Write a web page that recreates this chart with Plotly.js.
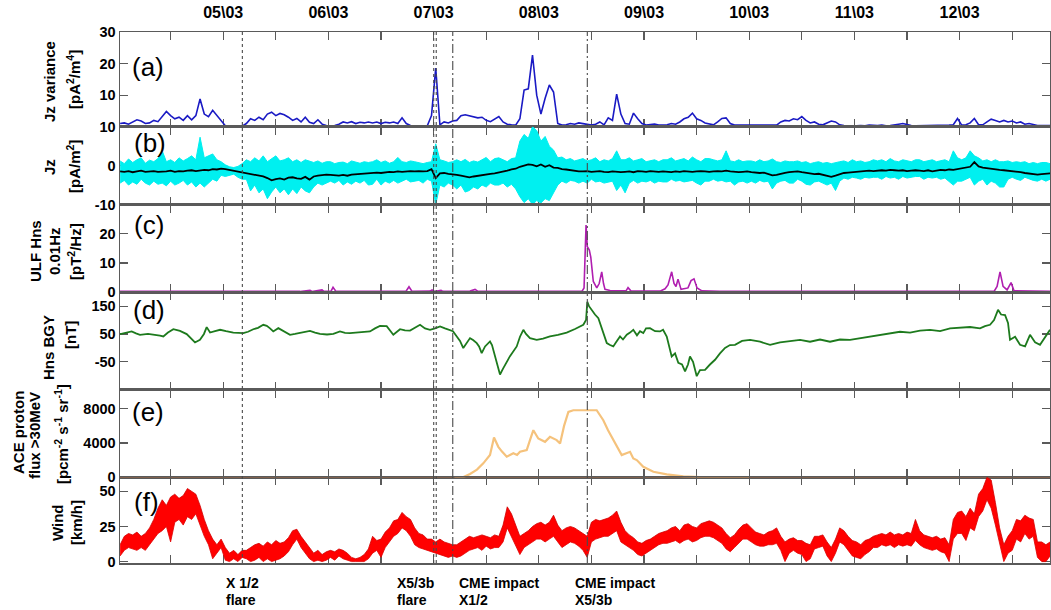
<!DOCTYPE html>
<html>
<head>
<meta charset="utf-8">
<script src="https://cdn.plot.ly/plotly-3.0.1.min.js"></script>
<style>html,body{margin:0;padding:0;background:#fff;}#chart{width:1051px;height:610px;}</style>
</head>
<body>
<div id="chart"></div>
<script>
// ---------------- DATA ----------------
// x axis: day of March 2012 (decimal)
const xRange = [4.019, 12.859];
const labelDays = [5,6,7,8,9,10,11,12];
const tickLabels = ['05\\03','06\\03','07\\03','08\\03','09\\03','10\\03','11\\03','12\\03'];

// regular sampling grid for the dense series
const gridStart = 4.02;
const gridStep = 0.04;

// (a) Jz variance [pA^2/m^4]
const jzVariance = [
 1.0,1.2,0.8,1.5,2.2,1.8,1.0,1.2,2.0,1.6,
 3.2,4.8,3.5,2.5,3.0,2.0,3.5,2.2,3.5,8.8,
 4.0,3.2,5.2,3.5,2.0,0.3,0.2,0.2,0.2,0.2,
 1.0,2.5,2.0,3.0,2.2,4.0,4.6,3.5,4.2,3.8,
 3.0,2.0,2.6,1.5,3.0,1.4,1.0,2.2,0.8,0.4,
 0.3,0.4,0.8,1.5,1.2,1.6,1.0,1.4,1.2,1.5,
 1.2,1.5,1.0,1.4,1.2,1.5,1.0,2.8,1.0,0.4,
 0.3,0.3,0.3,0.3,3.5,18.6,0.6,1.5,1.2,1.8,
 2.0,3.5,3.8,3.5,3.2,2.8,3.0,2.0,1.6,2.5,
 3.2,1.5,0.8,0.6,0.5,2.5,11.6,12.0,22.7,10.0,
 4.0,9.0,13.2,11.0,1.0,0.5,0.6,1.0,0.8,1.2,
 1.0,0.8,0.5,0.8,1.5,0.6,2.8,2.0,10.3,4.0,
 1.0,0.8,4.3,2.5,1.0,0.5,0.6,0.8,0.5,0.6,
 0.6,1.0,0.8,1.5,2.5,3.0,4.3,2.5,2.0,1.2,
 0.8,0.6,1.5,2.6,2.8,1.0,0.5,0.5,0.4,0.3,
 0.3,0.3,0.4,0.3,0.5,0.4,0.5,1.5,2.0,1.8,
 2.5,2.2,3.2,2.0,1.2,1.5,0.8,0.6,1.2,1.8,
 1.5,0.6,0.4,0.3,0.4,0.3,0.4,0.3,0.5,0.4,
 0.4,0.5,0.3,0.4,0.5,0.8,1.0,0.6,0.4,0.3,
 0.3,0.4,0.3,0.3,0.4,0.3,0.4,0.5,0.6,2.6,
 0.5,0.6,1.2,2.6,0.6,0.6,1.5,2.4,2.0,1.5,
 2.0,1.5,1.8,1.2,1.5,0.8,1.0,0.6,0.4,0.4,
 0.4,0.4
];

// (b) Jz raw [pA/m^2]: upper and lower envelope of the 1-s samples
const jzUpper = [
 1.2,0.5,1.7,0.8,1.5,2.0,0.6,1.4,1.0,1.8,
 3.8,1.0,1.5,0.8,2.0,1.2,1.8,2.5,1.5,7.3,
 2.0,2.5,3.0,1.5,1.0,0.2,-0.3,-0.5,-0.2,0.5,
 1.5,1.0,2.0,1.2,2.5,1.0,1.8,2.5,1.2,1.5,
 2.0,1.0,1.5,0.8,1.5,1.2,0.8,1.2,0.6,1.0,
 1.0,0.5,0.8,0.9,0.5,1.2,0.8,0.6,1.0,0.8,
 1.0,1.5,0.8,1.2,0.6,1.0,2.1,1.0,0.8,1.2,
 1.0,0.8,0.5,0.8,1.0,5.6,1.5,1.2,0.8,1.0,
 1.5,1.0,1.6,0.8,1.2,0.9,1.5,2.1,1.0,1.8,
 2.0,1.5,1.0,1.8,2.0,6.3,8.0,7.0,10.0,9.0,
 6.3,7.5,5.0,4.0,2.0,2.2,1.5,1.8,1.2,1.5,
 1.8,1.2,1.5,2.0,1.0,1.5,1.2,1.8,3.8,1.5,
 1.5,2.0,1.2,1.5,1.8,1.0,1.2,1.5,1.0,1.5,
 1.5,2.0,1.2,1.5,1.8,1.2,2.2,1.5,1.0,1.8,
 1.8,1.5,1.2,1.5,3.8,1.2,1.0,1.5,1.0,1.2,
 1.2,0.9,1.5,1.0,1.2,1.7,1.0,0.8,1.2,1.0,
 1.0,1.2,0.8,1.0,0.5,0.8,1.0,0.6,0.8,0.5,
 0.8,1.0,1.2,0.8,1.5,1.0,1.2,0.8,1.0,1.5,
 1.2,1.5,1.0,1.8,1.2,1.0,1.5,1.2,1.0,1.5,
 1.5,1.0,1.2,1.5,1.0,1.2,1.5,1.0,3.8,2.0,
 1.5,2.0,3.8,2.5,2.0,1.2,1.5,1.0,1.5,1.0,
 1.0,1.2,0.8,1.0,0.8,1.0,0.5,0.8,0.5,0.8,
 0.8,0.5
];
const jzLower = [
 -4.5,-3.8,-5.0,-4.2,-4.8,-3.5,-4.5,-5.0,-4.0,-4.8,
 -4.5,-5.2,-4.0,-5.0,-4.5,-3.8,-5.0,-4.2,-5.5,-4.5,
 -5.5,-4.5,-3.5,-4.0,-2.5,-2.8,-2.5,-2.2,-3.0,-3.5,
 -3.5,-6.5,-5.0,-7.0,-6.0,-8.5,-6.8,-5.5,-7.0,-6.0,
 -7.5,-6.0,-7.2,-5.5,-6.5,-7.0,-5.5,-4.5,-5.0,-4.5,
 -4.0,-4.5,-3.8,-5.0,-4.2,-4.8,-4.0,-4.5,-3.8,-5.0,
 -4.8,-3.5,-5.0,-4.0,-4.5,-3.8,-4.5,-4.0,-3.5,-4.2,
 -4.0,-3.8,-4.5,-3.5,-4.0,-10.0,-5.0,-5.5,-4.5,-5.0,
 -6.0,-5.0,-6.8,-6.4,-5.5,-6.0,-5.0,-5.5,-4.5,-5.0,
 -5.0,-4.5,-5.5,-4.8,-6.0,-8.0,-9.5,-8.5,-10.0,-9.0,
 -9.6,-8.5,-9.0,-7.0,-5.0,-4.0,-4.5,-3.8,-4.0,-4.5,
 -4.0,-4.5,-3.5,-4.2,-4.0,-4.5,-4.2,-4.0,-6.4,-5.0,
 -7.0,-4.5,-3.8,-4.5,-4.0,-4.2,-3.8,-4.5,-4.0,-4.2,
 -4.2,-3.5,-4.0,-3.8,-4.2,-4.0,-3.8,-4.5,-5.0,-4.0,
 -4.0,-3.5,-4.0,-3.8,-4.2,-4.0,-5.0,-4.2,-4.0,-4.5,
 -4.0,-4.5,-3.8,-4.2,-4.0,-6.0,-4.5,-4.0,-3.8,-4.5,
 -4.5,-3.5,-4.0,-4.8,-5.0,-4.2,-4.0,-4.5,-5.0,-4.5,
 -6.4,-4.0,-3.2,-3.5,-3.0,-3.2,-3.5,-3.0,-3.2,-3.0,
 -3.0,-3.5,-2.8,-3.2,-3.0,-3.5,-2.8,-3.2,-3.0,-2.8,
 -2.8,-3.5,-3.0,-3.2,-3.0,-3.5,-3.2,-4.0,-5.0,-4.0,
 -4.0,-3.5,-3.0,-5.0,-4.0,-3.5,-5.0,-4.0,-4.5,-5.5,
 -5.5,-3.5,-3.0,-3.5,-3.8,-3.0,-3.5,-3.8,-4.0,-3.5,
 -4.0,-3.5
];

// (b) Jz smoothed [pA/m^2]
const jzSmooth = [
 -1.5,-1.6,-1.4,-1.7,-1.5,-1.3,-1.6,-1.5,-1.4,-1.6,
 -1.6,-1.5,-1.3,-1.6,-1.4,-1.5,-1.3,-1.2,-1.4,-1.3,
 -1.1,-1.2,-0.9,-1.0,-0.8,-0.9,-1.1,-1.3,-1.5,-1.7,
 -1.9,-2.2,-2.4,-2.6,-2.8,-3.2,-3.8,-3.5,-3.3,-3.6,
 -3.1,-3.0,-3.3,-3.4,-2.9,-3.6,-2.8,-2.6,-2.5,-2.3,
 -2.4,-2.5,-2.6,-2.4,-2.6,-2.3,-2.2,-2.1,-2.0,-1.9,
 -1.9,-1.8,-1.9,-1.7,-1.6,-1.7,-1.5,-1.6,-1.5,-1.4,
 -1.5,-1.4,-1.5,-1.4,-0.9,-3.2,-2.0,-1.9,-2.1,-2.2,
 -2.4,-2.6,-2.8,-3.0,-2.8,-2.6,-2.4,-2.3,-2.1,-2.0,
 -1.8,-1.5,-1.3,-1.0,-0.8,-0.3,0.0,0.3,0.2,-0.2,
 0.3,-0.3,0.1,-0.5,-0.6,-0.9,-1.0,-1.2,-1.3,-1.5,
 -1.5,-1.4,-1.6,-1.5,-1.4,-1.6,-1.7,-1.5,-1.6,-1.7,
 -1.6,-1.5,-1.7,-1.4,-1.5,-1.6,-1.4,-1.5,-1.6,-1.5,
 -1.6,-1.7,-1.5,-1.6,-1.4,-1.5,-1.6,-1.5,-1.4,-1.5,
 -1.6,-1.5,-1.4,-1.5,-1.3,-1.5,-1.6,-1.7,-1.6,-1.5,
 -1.7,-1.8,-1.9,-1.8,-2.2,-2.5,-2.4,-2.1,-1.9,-1.7,
 -1.6,-1.5,-1.7,-1.9,-2.0,-2.2,-2.1,-2.4,-2.7,-2.9,
 -2.6,-2.2,-1.9,-1.8,-1.7,-1.6,-1.5,-1.4,-1.3,-1.4,
 -1.3,-1.2,-1.3,-1.1,-1.2,-1.3,-1.2,-1.4,-1.3,-1.2,
 -1.3,-1.4,-1.2,-1.5,-1.3,-1.1,-1.2,-1.0,-1.1,-0.9,
 -0.8,-0.6,-0.3,0.9,-0.2,-0.5,-0.7,-0.9,-1.0,-1.1,
 -1.2,-1.3,-1.4,-1.6,-1.7,-1.9,-2.0,-2.2,-2.3,-2.2,
 -2.1,-2.0
];

// (f) wind speed [km/h]: upper and lower envelope of the samples
const windUpper = [
 12,18,20,19,21,18,20,24,30,38,
 44,40,46,48,45,47,52,50,48,40,
 30,22,16,12,16,10,6,8,5,8,
 8,10,12,13,11,14,12,15,13,14,
 17,22,23,18,14,10,6,8,5,7,
 8,7,9,8,6,3,2,3,5,9,
 18,15,16,21,24,29,30,35,32,30,
 24,20,19,16,16,14,16,14,13,12,
 12,14,16,18,17,18,19,18,17,19,
 18,26,39,34,26,18,20,22,25,27,
 28,26,28,33,26,22,24,25,24,22,
 20,18,28,30,29,30,31,33,36,28,
 22,19,17,14,13,15,16,18,20,21,
 22,24,25,22,26,27,25,24,27,28,
 29,28,26,24,20,17,19,23,26,27,
 24,21,20,19,21,22,24,18,14,16,
 17,15,15,13,12,18,18,19,14,10,
 16,24,22,18,15,14,12,15,16,18,
 19,20,19,21,19,20,19,21,20,30,
 22,19,18,17,18,16,17,12,30,35,
 36,32,38,34,48,52,60,58,42,24,
 12,18,22,30,29,33,31,30,14,14,
 12,14
];
const windLower = [
 4,8,10,9,8,10,8,12,16,20,
 22,25,14,28,30,26,32,30,34,26,
 18,12,2,6,10,1,0,2,0,3,
 2,0,1,3,0,2,0,1,2,4,
 7,12,16,10,6,2,0,1,0,1,
 3,1,4,2,1,0,0,0,0,2,
 6,8,3,10,14,18,20,24,22,18,
 12,10,9,8,7,6,5,4,3,4,
 3,4,6,8,9,10,8,11,9,10,
 10,14,24,18,12,5,10,12,14,16,
 16,14,16,18,14,10,12,14,13,11,
 8,3,14,16,17,18,18,20,22,14,
 12,10,8,5,4,6,8,10,12,13,
 13,14,15,13,15,16,14,15,17,18,
 18,17,15,13,9,7,10,13,16,16,
 14,12,11,11,12,12,13,8,0,6,
 8,6,5,0,2,9,10,11,4,0,
 6,14,12,8,4,3,2,5,7,10,
 10,12,11,12,10,12,11,12,11,15,
 12,10,9,8,9,7,6,0,16,20,
 20,15,24,22,32,36,44,38,26,12,
 0,6,8,16,14,20,16,18,3,0,
 0,4
];

// (c) ULF Hns 0.01 Hz [pT^2/Hz]
const ulfDays = [4.019,5.730,5.825,5.844,5.939,5.958,6.025,6.044,6.072,6.681,6.738,6.766,6.795,6.966,6.985,7.004,7.070,7.089,7.346,7.394,7.422,8.411,8.430,8.449,8.461,8.480,8.494,8.518,8.551,8.574,8.598,8.615,8.629,8.677,8.829,8.848,8.877,9.152,9.200,9.228,9.263,9.285,9.304,9.323,9.352,9.418,9.447,9.475,9.504,9.551,9.722,10.103,11.053,12.327,12.356,12.384,12.413,12.451,12.489,12.517,12.859];
const ulfPower = [0.3,0.3,0.7,0.3,0.8,0.3,0.4,1.7,0.3,0.3,0.4,1.9,0.3,0.4,0.8,0.3,0.7,0.3,0.4,1.0,0.3,0.4,1.5,23,15.6,14.4,12,3.7,1.5,3,7,3,1.0,0.6,0.5,1.6,0.4,0.4,1.2,2.5,7,3,2,4.5,1.0,1.5,4,4.6,1.5,0.5,0.3,0.3,0.3,0.3,2,7,2,0.8,3.3,0.5,0.3];

// (d) Hns BGY [nT]
const hnsDays = [4.019,4.076,4.130,4.171,4.209,4.285,4.368,4.399,4.431,4.475,4.526,4.561,4.589,4.653,4.694,4.732,4.779,4.817,4.843,4.875,4.922,4.970,5.027,5.096,5.191,5.236,5.286,5.331,5.381,5.414,5.445,5.476,5.524,5.578,5.635,5.683,5.730,5.778,5.825,5.873,5.920,5.987,6.047,6.110,6.158,6.205,6.300,6.395,6.443,6.490,6.554,6.586,6.617,6.681,6.728,6.776,6.823,6.871,6.918,6.966,7.013,7.061,7.108,7.156,7.184,7.220,7.251,7.282,7.318,7.346,7.375,7.410,7.432,7.457,7.489,7.536,7.555,7.584,7.612,7.631,7.660,7.695,7.726,7.790,7.821,7.853,7.878,7.916,7.980,8.040,8.106,8.182,8.265,8.344,8.423,8.449,8.461,8.477,8.503,8.534,8.566,8.601,8.646,8.677,8.708,8.734,8.772,8.800,8.836,8.867,8.898,8.933,8.962,8.993,9.019,9.057,9.105,9.152,9.181,9.216,9.238,9.263,9.295,9.326,9.361,9.390,9.418,9.437,9.466,9.501,9.532,9.580,9.627,9.675,9.722,9.770,9.817,9.865,9.932,10.008,10.103,10.198,10.293,10.388,10.483,10.578,10.673,10.768,10.863,10.958,11.053,11.148,11.243,11.338,11.433,11.529,11.624,11.719,11.814,11.909,12.004,12.099,12.194,12.241,12.289,12.327,12.365,12.394,12.432,12.460,12.479,12.527,12.574,12.622,12.669,12.717,12.764,12.812,12.859];
const hnsField = [49.5,55,59,52,47,50,47,44,41,55,67,64,61,49.5,35,19.5,29,50,74.5,55,60,65,60,55,53,58,67,72,83,79,70,59,71,60,47,50,53,57,61,55,50,48,50,59,54,53,56,59,70,79,78,62,47,67,63,62,72,83,70,65,70,77,70,65,60,41,25,-1,20,35,28,17,5,-19,5,23,10,-31,-70,-96,-75,-49,-30,5,40,65,50,35,29,33,41,47,55,68,83,100,166,150,136,120,107,70,17,10,5,20,41,30,47,55,65,45,60,53,70,71,60,59,65,41,10,-31,-20,-54,-60,-85,-60,-31,-50,-102,-80,-79,-60,-43,-20,0,10,11,25,29,22,11,20,25,29,22,30,22,30,29,35,40,47,52,58,55,62,65,60,70,72,75,70,78,83,100,137,120,118,90,29,40,11,5,47,20,11,40,65];

// (e) ACE proton flux >30 MeV [pcm^-2 s^-1 sr^-1]
const protonDays = [7.200,7.279,7.346,7.412,7.472,7.536,7.574,7.615,7.650,7.695,7.758,7.793,7.821,7.885,7.916,7.948,7.995,8.059,8.106,8.137,8.170,8.202,8.240,8.281,8.328,8.550,8.613,8.658,8.708,8.788,8.867,8.898,8.931,8.993,9.089,9.216,9.373,9.532,10.008];
const protonFlux = [0,0,380,900,1630,2600,4650,3560,3000,2400,2800,2600,2980,3170,4340,5500,4530,4140,4720,4500,4340,3950,6000,7630,7830,7830,6660,5500,4340,2600,2980,2200,2010,1230,650,350,100,30,0];
const baseFluxDays = [4.019, 12.859];
const baseFlux = [0, 0];

// event markers
const eventDays = [5.182, 7.001, 7.025, 7.182, 8.461];
const eventKinds = ['flare','flare','flare','cme','cme'];
const eventLabelTop = ['X 1/2','X5/3b','CME impact','CME impact'];
const eventLabelBottom = ['flare','flare','X1/2','X5/3b'];

// texts
const panelLabels = ['(a)','(b)','(c)','(d)','(e)','(f)'];
const yTitles = [
  ['Jz variance','[pA<sup>2</sup>/m<sup>4</sup>]'],
  ['Jz','[pA/m<sup>2</sup>]'],
  ['ULF Hns','0.01Hz','[pT<sup>2</sup>/Hz]'],
  ['Hns BGY','[nT]'],
  ['ACE proton','flux >30MeV','[pcm<sup>-2</sup> s<sup>-1</sup> sr<sup>-1</sup>]'],
  ['Wind','[km/h]']
];

// ---------------- DRAW ----------------
const grid = jzVariance.map((_, i) => +(gridStart + i * gridStep).toFixed(3));
const FONT = 'Liberation Sans, Arial, Helvetica, sans-serif';

const traces = [
  {x: grid, y: jzVariance, xaxis:'x', yaxis:'y', mode:'lines', line:{color:'#1a1ac4', width:1.6}},
  {x: grid, y: jzLower, xaxis:'x2', yaxis:'y2', mode:'lines', line:{color:'#00eeee', width:1}},
  {x: grid, y: jzUpper, xaxis:'x2', yaxis:'y2', mode:'lines', fill:'tonexty', fillcolor:'#00f0f0', line:{color:'#00eeee', width:1}},
  {x: grid, y: jzSmooth, xaxis:'x2', yaxis:'y2', mode:'lines', line:{color:'#000000', width:1.8}},
  {x: ulfDays, y: ulfPower, xaxis:'x3', yaxis:'y3', mode:'lines', line:{color:'#b01eb0', width:1.6}},
  {x: hnsDays, y: hnsField, xaxis:'x4', yaxis:'y4', mode:'lines', line:{color:'#1d7a1d', width:1.8}},
  {x: baseFluxDays, y: baseFlux, xaxis:'x5', yaxis:'y5', mode:'lines', line:{color:'#f07828', width:2}},
  {x: protonDays, y: protonFlux, xaxis:'x5', yaxis:'y5', mode:'lines', line:{color:'#f5c27c', width:2.2}},
  {x: grid, y: windLower, xaxis:'x6', yaxis:'y6', mode:'lines', line:{color:'#e00000', width:0.8}},
  {x: grid, y: windUpper, xaxis:'x6', yaxis:'y6', mode:'lines', fill:'tonexty', fillcolor:'#ff0000', line:{color:'#d00000', width:0.8}}
];

const H = 531, W = 930, TOP = 32, LEFT = 120;
const py = p => (TOP + H - p) / H;   // pixel y -> paper
const px = p => (p - LEFT) / W;       // pixel x -> paper

const axisLine = {showline:true, linecolor:'#5a5a5a', linewidth:1.5, mirror:'ticks', ticks:'inside',
  tickcolor:'#5a5a5a', ticklen:8, tickwidth:1.2, showgrid:false, zeroline:false, layer:'below traces'};
const tickFont = {family:FONT, size:14.5, color:'#000', weight:'bold'};

const domains = [[py(126.7),1],[py(204.5),py(126.7)],[py(292.3),py(204.5)],[py(389.5),py(292.3)],[py(477.3),py(389.5)],[0,py(477.3)]];
const yRanges = [[0,30],[-10,10],[0,30],[-150,200],[0,10250],[-1,60]];
const yTicks = [[10,20,30],[-10,0,10],[0,10,20],[-50,50,150],[0,4000,8000],[0,25,50]];

const layout = {
  width:1051, height:610, margin:{l:LEFT, r:1, t:TOP, b:610-TOP-H},
  paper_bgcolor:'#fff', plot_bgcolor:'rgba(0,0,0,0)', showlegend:false,
  font:{family:FONT, color:'#000'},
  shapes:[], annotations:[]
};
for (let i = 0; i < 6; i++) {
  const s = i === 0 ? '' : String(i + 1);
  const xa = Object.assign({}, axisLine, {domain:[0,1], range:xRange, anchor:'y'+s, tickvals:labelDays,
     ticktext:tickLabels, showticklabels: i === 0,
     minor:{ticks:'inside', ticklen:8, tickwidth:1.2, tickcolor:'#5a5a5a', tick0:4, dtick:0.5, showgrid:false}});
  if (i === 0) { xa.side = 'top'; xa.tickfont = {family:FONT, size:16, color:'#000', weight:'bold'}; xa.ticklabelstandoff = 6; }
  else { xa.matches = 'x'; }
  layout['xaxis'+s] = xa;
  layout['yaxis'+s] = Object.assign({}, axisLine, {domain:domains[i], range:yRanges[i], anchor:'x'+s,
     tickvals:yTicks[i], ticktext:yTicks[i].map(String), tickfont:tickFont});
}

// event lines
eventDays.forEach((d, i) => {
  layout.shapes.push({type:'line', xref:'x', yref:'paper', x0:d, x1:d, y0:0, y1:1,
    line:{color:'#4a4a4a', width:1.1, dash: eventKinds[i] === 'flare' ? 'dot' : '9px,3px,2px,3px'}});
});

// panel labels
const labelPos = [[130,66.7],[131.7,143],[131.7,225],[131,310],[130,412],[132,502]];
panelLabels.forEach((t, i) => layout.annotations.push({text:t, xref:'paper', yref:'paper',
  x:px(labelPos[i][0]), y:py(labelPos[i][1]), xanchor:'left', yanchor:'middle', showarrow:false,
  font:{family:FONT, size:26, color:'#000'}}));

// y titles
const titlePos = [
  [[49,82],[73,80]],
  [[49,167],[73,167]],
  [[35,251],[54,251],[74,252]],
  [[48,348],[70,335]],
  [[18,433],[34,436],[61,434]],
  [[57,522],[76,523]]
];
yTitles.forEach((lines, i) => lines.forEach((t, j) => layout.annotations.push({text:t, xref:'paper', yref:'paper',
  x:px(titlePos[i][j][0]), y:py(titlePos[i][j][1]), xanchor:'center', yanchor:'middle', textangle:-90, showarrow:false,
  font:{family:FONT, size:15, color:'#000', weight:'bold'}})));

// event labels under the chart
const evLeft = [224, 395, 457.3, 572.7];
eventLabelTop.forEach((t, i) => {
  layout.annotations.push({text:t, xref:'paper', yref:'paper', x:px(evLeft[i]), y:py(582.5), xanchor:'left', yanchor:'middle',
    showarrow:false, font:{family:FONT, size:14, color:'#000', weight:'bold'}});
  layout.annotations.push({text:eventLabelBottom[i], xref:'paper', yref:'paper', x:px(evLeft[i]), y:py(600), xanchor:'left', yanchor:'middle',
    showarrow:false, font:{family:FONT, size:14, color:'#000', weight:'bold'}});
});

Plotly.newPlot('chart', traces, layout, {staticPlot:true, displayModeBar:false});
</script>
</body>
</html>
